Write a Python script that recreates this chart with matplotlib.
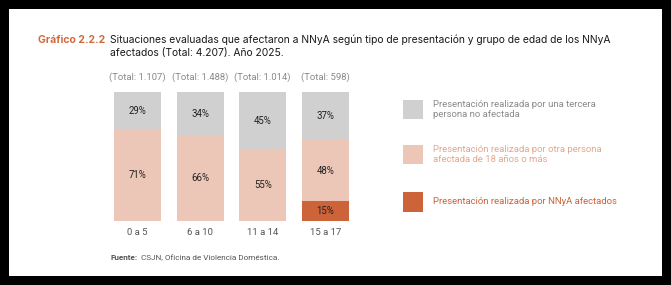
import matplotlib
matplotlib.use("Agg")
import matplotlib.pyplot as plt
from matplotlib.patches import Rectangle

categories = ["0 a 5", "6 a 10", "11 a 14", "15 a 17"]
totals = ["(Total: 1.107)", "(Total: 1.488)", "(Total: 1.014)", "(Total: 598)"]
nnya = [0, 0, 0, 15]
adulto = [71, 66, 55, 48]
tercera = [29, 34, 45, 37]
series_names = [
    "Presentación realizada por una tercera\npersona no afectada",
    "Presentación realizada por otra persona\nafectada de 18 años o más",
    "Presentación realizada por NNyA afectados",
]

c_gray = "#d0d0d0"
c_pink = "#ecc6b6"
c_dark = "#cc6339"
c_title = "#d06a3c"

W, H = 671, 285
fig = plt.figure(figsize=(W / 100, H / 100), dpi=100)
fig.patch.set_facecolor("black")
plt.rcParams['font.family'] = ['Roboto', 'DejaVu Sans']

def fx(px):
    return px / W

def fy(py):
    return 1 - py / H

# white panel
fig.patches.append(Rectangle((fx(9), fy(276)), fx(662) - fx(9), fy(9) - fy(276),
                             transform=fig.transFigure, facecolor="white",
                             edgecolor="none", zorder=-10))

ax = fig.add_axes([fx(106), fy(220.7), 250.8 / W, 128.4 / H])
ax.set_zorder(5)
ax.patch.set_visible(False)
ax.set_xlim(-0.5, 3.5)
ax.set_ylim(0, 100)
ax.axis("off")

x = list(range(len(categories)))
w = 0.75
ax.bar(x, nnya, w, color=c_dark)
ax.bar(x, adulto, w, bottom=nnya, color=c_pink)
bott = [a + b for a, b in zip(nnya, adulto)]
ax.bar(x, tercera, w, bottom=bott, color=c_gray)

for i in x:
    if nnya[i] > 0:
        ax.text(i, nnya[i] / 2, f"{nnya[i]}%", ha="center", va="center", fontsize=6.9, color="#222222")
    ax.text(i, nnya[i] + adulto[i] / 2, f"{adulto[i]}%", ha="center", va="center", fontsize=6.9, color="#222222")
    ax.text(i, bott[i] + tercera[i] / 2, f"{tercera[i]}%", ha="center", va="center", fontsize=6.9, color="#222222")
    ax.text(i, 112, totals[i], ha="center", va="center", fontsize=6.8, color="#8a8a8a", clip_on=False)
    ax.text(i, -9.5, categories[i], ha="center", va="center", fontsize=6.8, color="#555555", clip_on=False)

# title
fig.text(fx(38), fy(40), "Gráfico 2.2.2", fontsize=7.5, fontweight="bold", color=c_title,
         ha="left", va="center", family=["Inter", "DejaVu Sans"])
fig.text(fx(110), fy(40), "Situaciones evaluadas que afectaron a NNyA según tipo de presentación y grupo de edad de los NNyA",
         fontsize=7.45, color="#1a1a1a", ha="left", va="center", family=["Inter", "DejaVu Sans"])
fig.text(fx(110), fy(53), "afectados (Total: 4.207). Año 2025.",
         fontsize=7.45, color="#1a1a1a", ha="left", va="center", family=["Inter", "DejaVu Sans"])

# legend
leg_colors = [c_gray, c_pink, c_dark]
leg_text_colors = ["#8a8a8a", "#e4a68c", "#cc6339"]
leg_y = [109.5, 154.5, 201.7]
for col, tc, yy, name in zip(leg_colors, leg_text_colors, leg_y, series_names):
    fig.patches.append(Rectangle((fx(403), fy(yy + 9.8)), 20 / W, 19.6 / H,
                                 transform=fig.transFigure, facecolor=col, edgecolor="none"))
    fig.text(fx(433), fy(yy), name, fontsize=6.8, color=tc, ha="left", va="center", linespacing=1.2)

t = fig.text(fx(111), fy(258), "Fuente:", fontsize=5.9, fontweight="bold",
             color="#555555", ha="left", va="center")
fig.canvas.draw()
bb = t.get_window_extent()
fig.text(bb.x1 / W + 2.5 / W, fy(258), "CSJN, Oficina de Violencia Doméstica.", fontsize=5.9,
         color="#555555", ha="left", va="center")

fig.savefig("out.png", dpi=100, facecolor=fig.get_facecolor())
